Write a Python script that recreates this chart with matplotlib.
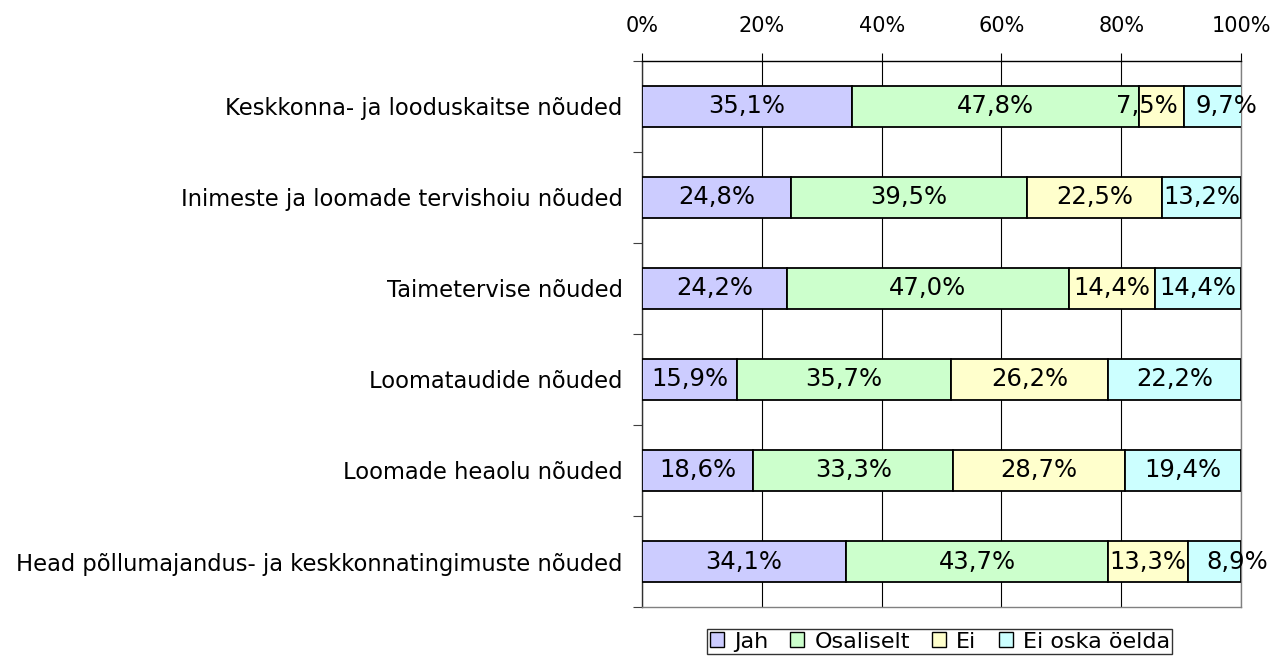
import numpy as np
import matplotlib.pyplot as plt

categories = [
    "Keskkonna- ja looduskaitse nõuded",
    "Inimeste ja loomade tervishoiu nõuded",
    "Taimetervise nõuded",
    "Loomataudide nõuded",
    "Loomade heaolu nõuded",
    "Head põllumajandus- ja keskkonnatingimuste nõuded",
]
series_names = ["Jah", "Osaliselt", "Ei", "Ei oska öelda"]
jah = [35.1, 24.8, 24.2, 15.9, 18.6, 34.1]
osaliselt = [47.8, 39.5, 47.0, 35.7, 33.3, 43.7]
ei = [7.5, 22.5, 14.4, 26.2, 28.7, 13.3]
ei_oska = [9.7, 13.2, 14.4, 22.2, 19.4, 8.9]
colors = ["#CCCCFF", "#CCFFCC", "#FFFFCC", "#CCFFFF"]

# small nudges (in % units) for labels that would collide in narrow segments
label_shift = {(0, 2): -2.3, (0, 3): 2.3, (5, 3): 3.9}

plt.rcParams["font.family"] = ["DejaVu Sans"]

fig = plt.figure(figsize=(12.79, 6.6), dpi=100)
ax = fig.add_axes([0.502, 0.0803, 0.4683, 0.8273])

y = np.arange(len(categories))
left = np.zeros(len(categories))
for si, (name, vals, col) in enumerate(zip(series_names, [jah, osaliselt, ei, ei_oska], colors)):
    vals = np.array(vals)
    ax.barh(y, vals, left=left, height=0.44, color=col, edgecolor="black",
            linewidth=1.3, label=name, zorder=3)
    for yi, l, v in zip(y, left, vals):
        dx = label_shift.get((yi, si), 0)
        ax.text(l + v / 2 + dx, yi, f"{v:.1f}%".replace(".", ","), ha="center",
                va="center", fontsize=17.5, zorder=4)
    left += vals

ax.set_xlim(0, 100)
ax.set_ylim(len(categories) - 0.5, -0.5)
ax.set_xticks(np.arange(0, 101, 20))
ax.set_xticklabels([f"{t}%" for t in range(0, 101, 20)], fontsize=15)
ax.xaxis.tick_top()
ax.tick_params(axis="x", length=6, pad=12, color="black", width=0.8)
ax.grid(axis="x", color="black", linewidth=0.8, zorder=0)

ax.set_yticks(y)
ax.set_yticklabels(categories, fontsize=16.3)
ax.set_yticks(np.arange(-0.5, len(categories), 1), minor=True)
ax.tick_params(axis="y", which="major", length=0, pad=14)
ax.tick_params(axis="y", which="minor", length=6.5, color="#404040", width=0.8)

ax.spines["top"].set_color("black")
ax.spines["left"].set_color("#303030")
for s in ["bottom", "right"]:
    ax.spines[s].set_color("#808080")
for s in ax.spines.values():
    s.set_linewidth(1.0)

leg = ax.legend(loc="upper center", bbox_to_anchor=(0.497, -0.04), ncol=4,
                fontsize=16, frameon=True, fancybox=False, handlelength=0.63,
                handleheight=0.63, handletextpad=0.45, columnspacing=1.0,
                borderpad=0.12, borderaxespad=0)
leg.get_frame().set_edgecolor("black")
leg.get_frame().set_linewidth(1.0)
for h in leg.legend_handles:
    h.set_linewidth(1.0)

fig.savefig("out.png", dpi=100)
